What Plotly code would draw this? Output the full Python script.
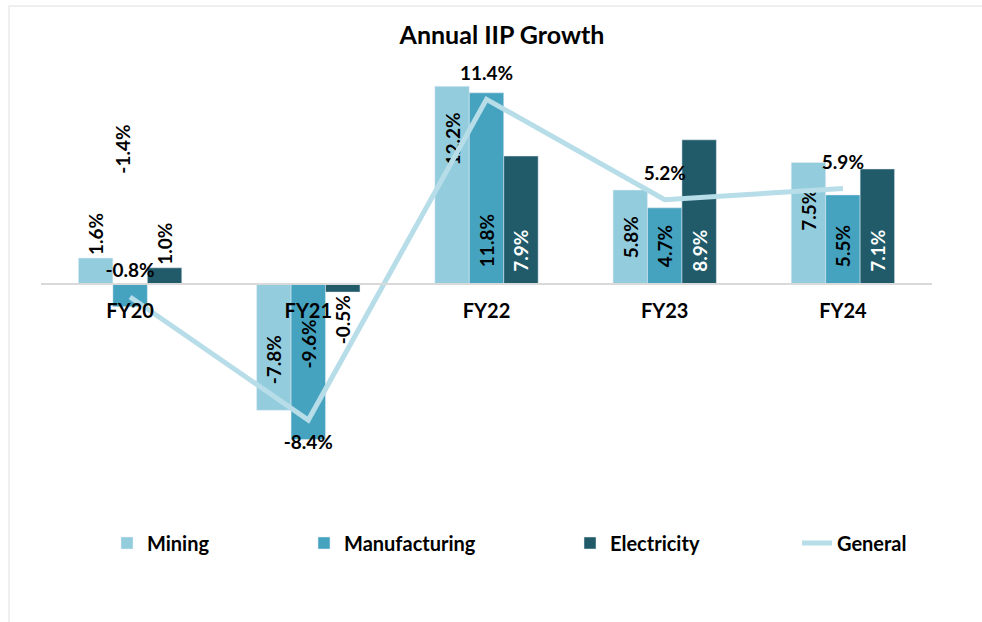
import plotly.graph_objects as go

categories = ["FY20", "FY21", "FY22", "FY23", "FY24"]
mining = [1.6, -7.8, 12.2, 5.8, 7.5]
manufacturing = [-1.4, -9.6, 11.8, 4.7, 5.5]
electricity = [1.0, -0.5, 7.9, 8.9, 7.1]
general = [-0.8, -8.4, 11.4, 5.2, 5.9]

FONT = "Lato, 'Open Sans', sans-serif"
C_MIN = "#93CDDD"
C_MAN = "#45A3C0"
C_ELE = "#215B6A"
C_GEN = "#B7DDE8"
NB = "\u00a0"

def fmt(v):
    return f"{v:.1f}%"

def padded(v, pos_pad, neg_pad):
    # pad the base side (anchor "start") of rotated inside labels
    return (NB * pos_pad + fmt(v)) if v > 0 else (fmt(v) + NB * neg_pad)

def padded_end(v, pad):
    # pad the tip side (anchor "end") of rotated inside labels
    return (fmt(v) + NB * pad) if v > 0 else (NB * pad + fmt(v))

fig = go.Figure()

# Mining
fig.add_trace(go.Bar(
    x=categories, y=mining, name="Mining", marker_color=C_MIN,
    text=[fmt(v) if abs(v) < 2 else padded_end(v, 5) for v in mining], textangle=-90,
    textposition=["outside", "inside", "inside", "inside", "inside"],
    insidetextanchor="end",
    textfont=dict(family=FONT, size=19, color="black", weight="bold"),
    cliponaxis=False, legend="legend",
))
# Manufacturing (FY20 label placed as annotation like the reference)
fig.add_trace(go.Bar(
    x=categories, y=manufacturing, name="Manufacturing", marker_color=C_MAN,
    text=[padded(v, 3, 7) for v in manufacturing], textangle=-90,
    textposition=["none", "inside", "inside", "inside", "inside"],
    insidetextanchor="start",
    textfont=dict(family=FONT, size=19, color="black", weight="bold"),
    cliponaxis=False, legend="legend2",
))
# Electricity
fig.add_trace(go.Bar(
    x=categories, y=electricity, name="Electricity", marker_color=C_ELE,
    text=[padded(v, 2, 0) if v > 2 else fmt(v) for v in electricity], textangle=-90,
    textposition=["outside", "outside", "inside", "inside", "inside"],
    insidetextanchor="start",
    insidetextfont=dict(family=FONT, size=19, color="white", weight="bold"),
    outsidetextfont=dict(family=FONT, size=19, color="black", weight="bold"),
    cliponaxis=False, legend="legend3",
))
# General
fig.add_trace(go.Scatter(
    x=categories, y=general, name="General", mode="lines+markers+text",
    line=dict(color=C_GEN, width=5),
    marker=dict(size=22, color="rgba(0,0,0,0)"),
    text=[fmt(v) for v in general],
    textposition=["top center", "bottom center", "top center", "top center", "top center"],
    textfont=dict(family=FONT, size=19, color="black", weight="bold"),
    cliponaxis=False, legend="legend4",
))

T, B, L, R = 60, 122, 41, 50
H = 622 - T - B
px_per = 16.2
zero_px = 284
ymax = (zero_px - T) / px_per
ymin = -((622 - B) - zero_px) / px_per
zero_paper = ((622 - B) - zero_px) / H

def leg(xpx):
    return dict(x=(xpx - L) / (982 - L - R), y=((622 - B) - 543) / H,
                xanchor="left", yanchor="middle", orientation="h",
                font=dict(family=FONT, size=20, color="black", weight="bold"),
                bgcolor="rgba(0,0,0,0)")

fig.update_layout(
    width=982, height=622,
    margin=dict(t=T, b=B, l=L, r=R, autoexpand=False),
    paper_bgcolor="white", plot_bgcolor="white",
    barmode="group", bargap=0.42, bargroupgap=0,
    uniformtext=dict(mode="show", minsize=19),
    title=dict(text="Annual IIP Growth", x=502 / 982, xref="container", xanchor="center",
               y=1 - 35 / 622, yanchor="middle",
               font=dict(family=FONT, size=25, color="black", weight="bold")),
    xaxis=dict(type="category", anchor="free", position=zero_paper,
               showline=True, linecolor="#D9D9D9", linewidth=2, ticks="",
               showgrid=False, ticklabelstandoff=9,
               tickfont=dict(family=FONT, size=20, color="black", weight="bold")),
    yaxis=dict(range=[ymin, ymax], visible=False, showgrid=False, zeroline=False),
    legend=leg(107),
    legend2=leg(304),
    legend3=leg(570),
    legend4=leg(797),
    showlegend=True,
)

# Manufacturing FY20 label, placed high above as in the reference
fig.add_annotation(x=categories[0], y=8.3, text=fmt(manufacturing[0]), textangle=-90,
                   showarrow=False, xshift=-8,
                   font=dict(family=FONT, size=19, color="black", weight="bold"))

# chart frame
fig.add_shape(type="rect", xref="paper", yref="paper",
              x0=(9 - L) / (982 - L - R), x1=1.2,
              y0=-0.4, y1=((622 - B) - 6) / H,
              line=dict(color="#EFEFEF", width=2), layer="below")

fig.write_html("out.html", config={"displayModeBar": False},
               post_script="document.body.style.margin='0';")
